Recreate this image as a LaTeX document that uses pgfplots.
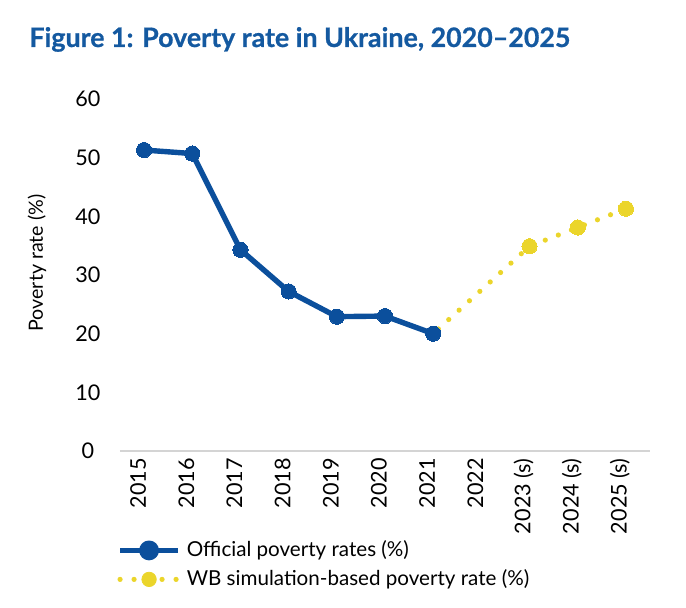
\documentclass[border=0pt]{standalone}
\usepackage{fontspec}
\setmainfont{Lato}[BoldFeatures={FakeBold=0.7}]
\usepackage{pgfplots}
\pgfplotsset{compat=1.18}
\definecolor{wbblue}{HTML}{0B4F9C}
\definecolor{wbyellow}{HTML}{EBD52B}
\definecolor{titleblue}{HTML}{1459A0}
\definecolor{axisgray}{HTML}{D4D4D4}
\begin{document}
\begin{tikzpicture}[x=1pt,y=1pt]
\useasboundingbox (0,0) rectangle (343,-304);
\node[anchor=base west, font=\bfseries\fontsize{13.4}{16}\selectfont, text=titleblue, inner sep=0pt] at (14.5,-23.5) {Figure 1: Poverty rate in Ukraine, 2020–2025};
\begin{axis}[
  at={(60pt,-225.5pt)}, anchor=south west,
  scale only axis, width=265pt, height=176pt,
  xmin=-0.5, xmax=10.5, ymin=0, ymax=60,
  axis x line*=bottom, axis y line*=left,
  y axis line style={draw=none},
  x axis line style={draw=axisgray, line width=0.6pt},
  major tick length=0pt,
  ytick={0,10,...,60},
  xtick={0,...,10},
  xticklabels={2015,2016,2017,2018,2019,2020,2021,2022,2023 (s),2024 (s),2025 (s)},
  /pgf/number format/assume math mode=true,
  tick label style={font=\fontsize{10.8}{12}\selectfont, text=black},
  yticklabel style={anchor=center, xshift=-16pt},
  xticklabel style={rotate=90, anchor=east, inner sep=0pt, xshift=-3.5pt, yshift=3pt},
  ylabel={Poverty rate (\%)},
  ylabel style={at={(axis description cs:-0.1566,0.534)}, anchor=center, font=\fontsize{9.8}{11}\selectfont},
  legend style={at={(axis description cs:-0.0057,-0.243)}, anchor=north west, draw=none, fill=none,
    inner sep=0pt, row sep=1pt, font=\fontsize{10.3}{12}\selectfont, column sep=1pt},
  legend cell align=left,
  clip=false,
]
\addplot[wbyellow, line width=2.6pt, line cap=round, dash pattern=on 0pt off 7pt, dash phase=3.5pt, forget plot]
  coordinates {(6,20.0) (8,34.9) (9,38.1) (10,41.3)};
\addplot[wbblue, line width=2.7pt, line join=round, mark=*, mark size=3.8pt, mark options={solid, fill=wbblue, draw=wbblue, line width=0pt},
  legend image code/.code={\draw[wbblue, line width=2.7pt] (0pt,0pt) -- (29pt,0pt); \fill[wbblue] (14.5pt,0pt) circle (3.6pt);}]
  coordinates {(0,51.3) (1,50.7) (2,34.3) (3,27.2) (4,22.9) (5,23.0) (6,20.0)};
\addlegendentry{Official poverty rates (\%)}
\addplot[only marks, mark=*, mark size=3.8pt, mark options={fill=wbyellow, draw=wbyellow, line width=0pt},
  legend image code/.code={\draw[wbyellow, line width=2.6pt, line cap=round, dash pattern=on 0pt off 7pt, dash phase=0pt] (0pt,0pt) -- (29pt,0pt); \fill[wbyellow] (14.5pt,0pt) circle (3.6pt);}]
  coordinates {(8,34.9) (9,38.1) (10,41.3)};
\addlegendentry{WB simulation-based poverty rate (\%)}
\end{axis}
\end{tikzpicture}
\end{document}
